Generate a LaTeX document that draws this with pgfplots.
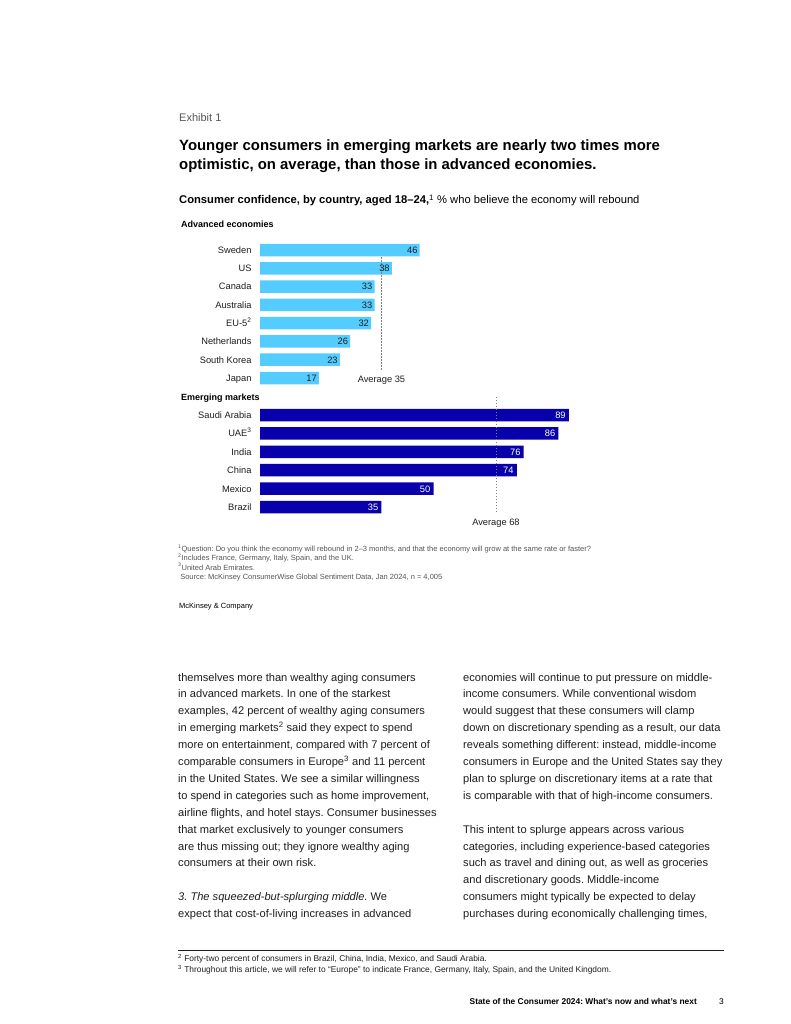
\documentclass[border=0pt]{standalone}
\usepackage{fontspec}
\setmainfont{Liberation Sans}
\usepackage{pgfplots}
\pgfplotsset{compat=1.18}
\frenchspacing

\definecolor{lightbar}{RGB}{84,204,255}
\definecolor{darkbar}{RGB}{8,0,170}
\definecolor{ink}{RGB}{30,30,30}
\definecolor{note}{RGB}{85,85,85}

% one line of text, baseline at pixel (x,y) measured from the top left
\newcommand{\tl}[4][]{\node[anchor=base west, inner sep=0pt, text=ink, #1] at (#2pt,-#3pt) {#4};}
\newcommand{\bodyfont}{\fontsize{11.1}{13}\selectfont}
\newcommand{\lblfont}{\fontsize{9.3}{11}\selectfont}
\newcommand{\notefont}{\fontsize{7.5}{8}\selectfont}
\newcommand{\pnotefont}{\fontsize{8.4}{9}\selectfont}

\pgfplotsset{
  cbar/.style={
    x=3.47pt, xmin=0, xmax=100,
    y dir=reverse,
    axis line style={draw=none}, tick style={draw=none},
    xtick=\empty, clip=false, anchor=origin,
    yticklabel style={anchor=east, inner sep=0pt, xshift=-8.3pt,
      font=\lblfont, text=ink, text height=6.8pt, text depth=0pt},
    /pgf/number format/assume math mode=true,
  },
  avg/.style={sharp plot, no marks, draw=gray, line width=0.7pt,
    dash pattern=on 1.5pt off 1.5pt},
}

\begin{document}
\begin{tikzpicture}
\path[use as bounding box, fill=white] (0,0) rectangle (791pt,-1024pt);

% header
\tl[text=note, font=\fontsize{11}{13}\selectfont]{179}{122}{Exhibit 1}
\tl[text=black, font=\fontsize{14.9}{18}\selectfont\bfseries]{179}{151}{Younger consumers in emerging markets are nearly two times more}
\tl[text=black, font=\fontsize{14.9}{18}\selectfont\bfseries]{179}{169.5}{optimistic, on average, than those in advanced economies.}
\tl[text=black, font=\fontsize{11.2}{13}\selectfont]{179}{204}{\textbf{Consumer confidence, by country, aged 18–24,}\textsuperscript{1} \% who believe the economy will rebound}
\tl[text=black, font=\fontsize{9}{11}\selectfont\bfseries]{181}{227.5}{Advanced economies}
\tl[text=black, font=\fontsize{9}{11}\selectfont\bfseries]{181}{400.5}{Emerging markets}

% advanced economies
\begin{axis}[cbar, at={(260pt,-250pt)}, y=18.29pt, ymin=-1, ymax=8,
  ytick={0,...,7},
  yticklabels={Sweden,US,Canada,Australia,{EU-5\textsuperscript{2}},Netherlands,South Korea,Japan}]
\addplot[xbar, bar width=12.5pt, fill=lightbar, draw=none,
  nodes near coords,
  nodes near coords style={anchor=east, inner sep=0pt, xshift=-2pt,
    font=\lblfont, text=ink, text height=6.8pt, text depth=0pt}]
  coordinates {(46,0) (38,1) (33,2) (33,3) (32,4) (26,5) (23,6) (17,7)};
\addplot[avg] coordinates {(35,0.39) (35,6.6)};
\node[font=\lblfont, text=ink, inner sep=0pt] at (axis cs:35,7.1) {Average 35};
\end{axis}

% emerging markets
\begin{axis}[cbar, at={(260pt,-415pt)}, y=18.4pt, ymin=-1, ymax=6,
  ytick={0,...,5},
  yticklabels={Saudi Arabia,{UAE\textsuperscript{3}},India,China,Mexico,Brazil}]
\addplot[xbar, bar width=12.5pt, fill=darkbar, draw=none,
  nodes near coords,
  nodes near coords style={anchor=east, inner sep=0pt, xshift=-3pt,
    font=\lblfont, text=white, text height=6.8pt, text depth=0pt}]
  coordinates {(89,0) (86,1) (76,2) (74,3) (50,4) (35,5)};
\addplot[avg] coordinates {(68,-0.98) (68,5.33)};
\node[font=\lblfont, text=ink, inner sep=0pt] at (axis cs:68,5.87) {Average 68};
\end{axis}

% chart notes
\tl[text=note, font=\notefont]{178}{551.5}{\textsuperscript{1}Question: Do you think the economy will rebound in 2–3 months, and that the economy will grow at the same rate or faster?}
\tl[text=note, font=\notefont]{178}{560.8}{\textsuperscript{2}Includes France, Germany, Italy, Spain, and the UK.}
\tl[text=note, font=\notefont]{178}{570}{\textsuperscript{3}United Arab Emirates.}
\tl[text=note, font=\notefont]{178}{579.5}{\ Source: McKinsey ConsumerWise Global Sentiment Data, Jan 2024, n = 4,005}
\tl[text=black, font=\fontsize{7.5}{9}\selectfont]{179}{608}{McKinsey \& Company}

% body text, left column
\tl[font=\bodyfont]{178}{681}{themselves more than wealthy aging consumers}
\tl[font=\bodyfont]{178}{697.9}{in advanced markets. In one of the starkest}
\tl[font=\bodyfont]{178}{714.8}{examples, 42 percent of wealthy aging consumers}
\tl[font=\bodyfont]{178}{731.7}{in emerging markets\textsuperscript{2} said they expect to spend}
\tl[font=\bodyfont]{178}{748.6}{more on entertainment, compared with 7 percent of}
\tl[font=\bodyfont]{178}{765.5}{comparable consumers in Europe\textsuperscript{3} and 11 percent}
\tl[font=\bodyfont]{178}{782.4}{in the United States. We see a similar willingness}
\tl[font=\bodyfont]{178}{799.3}{to spend in categories such as home improvement,}
\tl[font=\bodyfont]{178}{816.2}{airline flights, and hotel stays. Consumer businesses}
\tl[font=\bodyfont]{178}{833.1}{that market exclusively to younger consumers}
\tl[font=\bodyfont]{178}{850}{are thus missing out; they ignore wealthy aging}
\tl[font=\bodyfont]{178}{866.9}{consumers at their own risk.}
\tl[font=\bodyfont]{178}{900.7}{\textit{3. The squeezed-but-splurging middle.} We}
\tl[font=\bodyfont]{178}{917.6}{expect that cost-of-living increases in advanced}

% body text, right column
\tl[font=\bodyfont]{463}{681}{economies will continue to put pressure on middle-}
\tl[font=\bodyfont]{463}{697.9}{income consumers. While conventional wisdom}
\tl[font=\bodyfont]{463}{714.8}{would suggest that these consumers will clamp}
\tl[font=\bodyfont]{463}{731.7}{down on discretionary spending as a result, our data}
\tl[font=\bodyfont]{463}{748.6}{reveals something different: instead, middle-income}
\tl[font=\bodyfont]{463}{765.5}{consumers in Europe and the United States say they}
\tl[font=\bodyfont]{463}{782.4}{plan to splurge on discretionary items at a rate that}
\tl[font=\bodyfont]{463}{799.3}{is comparable with that of high-income consumers.}
\tl[font=\bodyfont]{463}{833.1}{This intent to splurge appears across various}
\tl[font=\bodyfont]{463}{850}{categories, including experience-based categories}
\tl[font=\bodyfont]{463}{866.9}{such as travel and dining out, as well as groceries}
\tl[font=\bodyfont]{463}{883.8}{and discretionary goods. Middle-income}
\tl[font=\bodyfont]{463}{900.7}{consumers might typically be expected to delay}
\tl[font=\bodyfont]{463}{917.6}{purchases during economically challenging times,}

% page footnotes and footer
\draw[line width=0.5pt, ink] (178pt,-950pt) -- (724pt,-950pt);
\tl[font=\pnotefont]{178}{961}{\textsuperscript{2} Forty-two percent of consumers in Brazil, China, India, Mexico, and Saudi Arabia.}
\tl[font=\pnotefont]{178}{972}{\textsuperscript{3} Throughout this article, we will refer to “Europe” to indicate France, Germany, Italy, Spain, and the United Kingdom.}
\node[anchor=base east, inner sep=0pt, text=black, font=\fontsize{8.4}{10}\selectfont\bfseries] at (697pt,-1004pt) {State of the Consumer 2024: What’s now and what’s next};
\tl[text=black, font=\fontsize{8.4}{10}\selectfont]{719}{1004}{3}
\end{tikzpicture}
\end{document}
